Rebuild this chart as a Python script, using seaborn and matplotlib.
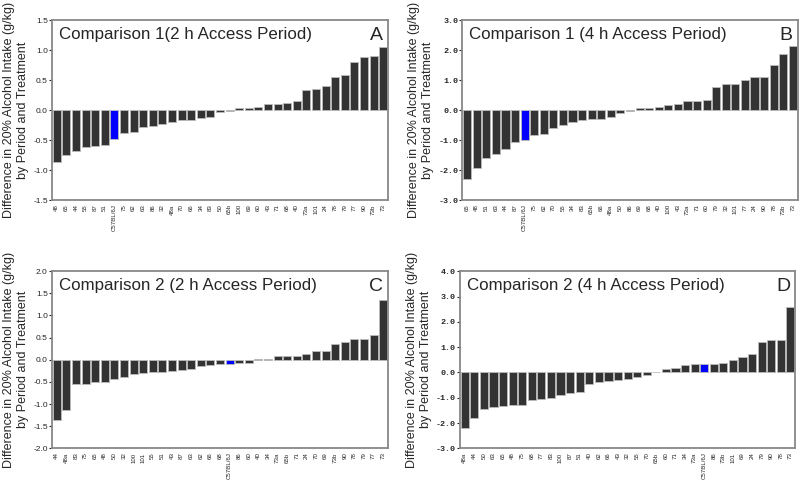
import numpy as np
import pandas as pd
import matplotlib.pyplot as plt
import seaborn as sns

# Panel data
labels_a = ["48", "65", "44", "55", "87", "51", "C57BL/6J", "75", "62", "63", "86", "32",
            "48a", "70", "66", "34", "83", "50", "65b", "100", "69", "60", "43", "71", "68",
            "40", "73a", "101", "24", "78", "79", "77", "90", "73b", "73"]
values_a = [-0.87, -0.74, -0.68, -0.61, -0.59, -0.58, -0.48, -0.38, -0.37, -0.28, -0.26, -0.23,
            -0.19, -0.17, -0.16, -0.13, -0.12, -0.03, -0.01, 0.03, 0.03, 0.06, 0.10, 0.10, 0.12,
            0.16, 0.34, 0.36, 0.41, 0.56, 0.58, 0.80, 0.88, 0.90, 1.05]

labels_b = ["65", "48", "51", "63", "44", "87", "C57BL/6J", "75", "62", "70", "55", "34",
            "83", "65b", "66", "48a", "50", "86", "69", "68", "40", "100", "43", "73a", "71",
            "60", "79", "32", "101", "77", "24", "90", "78", "73b", "73"]
values_b = [-2.28, -1.94, -1.61, -1.47, -1.31, -1.07, -0.98, -0.84, -0.81, -0.61, -0.50, -0.41,
            -0.33, -0.31, -0.31, -0.24, -0.09, -0.02, 0.06, 0.07, 0.11, 0.18, 0.21, 0.31, 0.32,
            0.34, 0.76, 0.86, 0.88, 1.00, 1.09, 1.11, 1.52, 1.87, 2.14]

labels_c = ["44", "48a", "83", "75", "65", "48", "50", "32", "100", "101", "55", "51", "43",
            "87", "63", "62", "66", "68", "C57BL/6J", "86", "60", "40", "34", "73a", "65b", "71",
            "24", "70", "69", "73b", "90", "78", "79", "77", "73"]
values_c = [-1.35, -1.13, -0.55, -0.54, -0.50, -0.50, -0.43, -0.38, -0.32, -0.31, -0.28, -0.27,
            -0.26, -0.23, -0.21, -0.14, -0.12, -0.10, -0.09, -0.07, -0.07, 0.01, 0.02, 0.08, 0.08,
            0.09, 0.12, 0.19, 0.20, 0.35, 0.40, 0.46, 0.48, 0.55, 1.34]

labels_d = ["48a", "44", "50", "63", "65", "48", "75", "68", "77", "83", "100", "87", "51",
            "40", "62", "66", "43", "32", "55", "70", "65b", "60", "71", "34", "73a", "C57BL/6J",
            "86", "73b", "101", "69", "24", "79", "90", "78", "73"]
values_d = [-2.18, -1.81, -1.45, -1.35, -1.32, -1.28, -1.28, -1.10, -1.05, -1.01, -0.88, -0.81,
            -0.78, -0.46, -0.37, -0.35, -0.31, -0.27, -0.17, -0.10, 0.02, 0.13, 0.16, 0.30, 0.34,
            0.35, 0.35, 0.38, 0.48, 0.62, 0.73, 1.19, 1.28, 1.28, 2.58]

titles = ["Comparison 1(2 h Access Period)", "Comparison 1 (4 h Access Period)",
          "Comparison 2 (2 h Access Period)", "Comparison 2 (4 h Access Period)"]
letters = ["A", "B", "C", "D"]
ylims = [(-1.5, 1.5), (-3, 3), (-2, 2), (-3, 4)]
ysteps = [0.5, 1.0, 0.5, 1.0]

sns.set_style("white")
plt.rcParams["font.family"] = ["Liberation Sans", "DejaVu Sans"]

fig = plt.figure(figsize=(8, 4.8), dpi=100)
positions = [[0.065, 0.583, 0.42, 0.375], [0.578, 0.583, 0.419, 0.375],
             [0.065, 0.066, 0.42, 0.369], [0.575, 0.066, 0.419, 0.369]]

panels = [(labels_a, values_a), (labels_b, values_b), (labels_c, values_c), (labels_d, values_d)]

for i, (labs, vals) in enumerate(panels):
    ax = fig.add_axes(positions[i])
    df = pd.DataFrame({"strain": labs, "diff": vals})
    pal = {s: ("#0000ff" if s == "C57BL/6J" else "#333333") for s in labs}
    sns.barplot(data=df, x="strain", y="diff", hue="strain", palette=pal, legend=False,
                width=0.85, edgecolor="#bbbbbb", linewidth=0.6, saturation=1, ax=ax)
    ax.set_xlim(-0.5, len(labs) - 0.5)
    ax.set_ylim(*ylims[i])
    ax.set_yticks(np.arange(ylims[i][0], ylims[i][1] + 0.01, ysteps[i]))
    ax.set_yticklabels([f"{t:.1f}" for t in ax.get_yticks()])
    ax.set_xlabel("")
    ax.set_ylabel("Difference in 20% Alcohol Intake (g/kg)\nby Period and Treatment",
                  fontsize=9, labelpad=3, linespacing=1.2)
    ax.tick_params(axis="x", labelrotation=90, labelsize=4.4, length=2, pad=1)
    ax.tick_params(axis="y", labelsize=6, length=2, pad=1, left=True)
    if i % 2 == 1:
        for t in ax.get_yticklabels():
            t.set_family("Liberation Mono")
            t.set_fontweight("bold")
    for sp in ax.spines.values():
        sp.set_color("#888888")
        sp.set_linewidth(1.3)
    ax.text(0.02, 0.96, titles[i], transform=ax.transAxes, fontsize=12.2, va="top", ha="left")
    ax.text(0.985, 0.96, letters[i], transform=ax.transAxes, fontsize=14, va="top", ha="right")

fig.savefig("out.png", dpi=100)
